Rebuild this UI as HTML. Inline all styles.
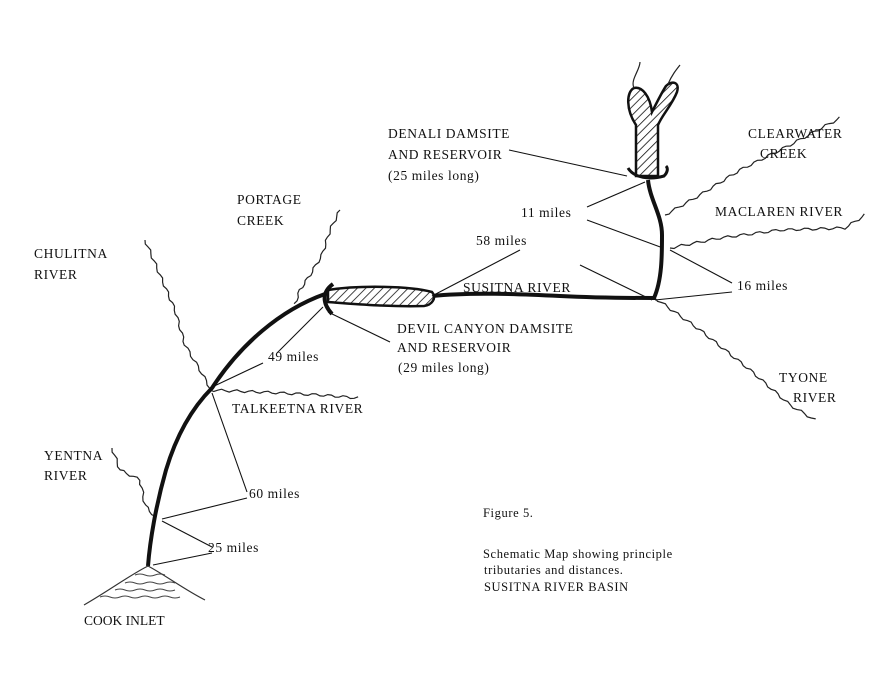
<!DOCTYPE html>
<html><head><meta charset="utf-8"><style>
html,body{margin:0;padding:0;background:#fff;}
svg{display:block}
text{font-family:"Liberation Serif",serif;font-size:13.5px;fill:#111;letter-spacing:0.6px}
</style></head><body>
<svg id="s" width="896" height="700" viewBox="0 0 896 700" xmlns="http://www.w3.org/2000/svg">
<defs>
<pattern id="h" width="6" height="6" patternUnits="userSpaceOnUse" patternTransform="rotate(45)">
<rect width="6" height="6" fill="#fff"/><line x1="0" y1="0" x2="0" y2="6" stroke="#111" stroke-width="1.6"/>
</pattern>
</defs>
<g id="w" fill="none" stroke="#222" stroke-width="1.2"></g>
<path d="M148 566 C150 540 156 505 166 470 C178 430 195 405 212 388 C240 345 280 310 325 294" fill="none" stroke="#111" stroke-width="4"/>
<path d="M432 296 C470 292 520 294 560 296 C600 298 630 298 654 298 C662 280 662 255 662 235 C662 215 650 200 648 180" fill="none" stroke="#111" stroke-width="4"/>
<path d="M328 290 C360 285 410 286 432 292 C437 298 432 305 424 306 C390 307 355 304 328 302 Z" fill="url(#h)" stroke="#111" stroke-width="2.5"/>
<path d="M333 284 C322 292 322 303 332 314" fill="none" stroke="#111" stroke-width="4"/>
<path d="M636 176 L636 125 C626 110 626 92 634 88 C642 86 650 96 652 112 C658 100 662 92 666 86 C672 80 680 82 677 92 C672 105 662 115 658 125 L658 176 Z" fill="url(#h)" stroke="#111" stroke-width="2.5"/>
<path d="M628 168 C634 178 650 180 664 176 C668 172 668 168 666 166" fill="none" stroke="#111" stroke-width="3"/>
<path d="M634 88 C630 80 640 70 640 62 M668 84 C672 75 676 70 680 65" fill="none" stroke="#222" stroke-width="1.2"/>
<path d="M84 605 C110 590 130 575 148 566 C165 575 185 590 205 600" fill="none" stroke="#333" stroke-width="1.2"/>
<g stroke="#444" stroke-width="1" fill="none">
<path d="M135 575 q5 -2 10 0 t10 0 t10 0"/><path d="M125 583 q5 -2 10 0 t10 0 t10 0 t10 0 t10 0"/><path d="M115 590 q5 -2 10 0 t10 0 t10 0 t10 0 t10 0 t10 0"/><path d="M100 597 q5 -2 10 0 t10 0 t10 0 t10 0 t10 0 t10 0 t10 0 t10 0"/></g>
<g stroke="#111" stroke-width="1.1">
<line x1="509" y1="150" x2="627" y2="176"/>
<line x1="587" y1="207" x2="645" y2="182"/>
<line x1="587" y1="220" x2="663" y2="248"/>
<line x1="580" y1="265" x2="652" y2="300"/>
<line x1="520" y1="250" x2="432" y2="296"/>
<line x1="670" y1="250" x2="732" y2="283"/>
<line x1="655" y1="300" x2="732" y2="292"/>
<line x1="277" y1="353" x2="323" y2="307"/>
<line x1="263" y1="363" x2="210" y2="388"/>
<line x1="390" y1="342" x2="328" y2="312"/>
<line x1="247" y1="492" x2="212" y2="393"/>
<line x1="247" y1="498" x2="162" y2="519"/>
<line x1="212" y1="547" x2="162" y2="521"/>
<line x1="212" y1="553" x2="153" y2="565"/>
</g>
<text x="388" y="138">DENALI DAMSITE</text>
<text x="388" y="159">AND RESERVOIR</text>
<text x="388" y="180">(25 miles long)</text>
<text x="748" y="138">CLEARWATER</text>
<text x="760" y="158">CREEK</text>
<text x="715" y="216">MACLAREN RIVER</text>
<text x="521" y="217">11 miles</text>
<text x="476" y="245">58 miles</text>
<text x="463" y="292">SUSITNA RIVER</text>
<text x="737" y="290">16 miles</text>
<text x="397" y="333">DEVIL CANYON DAMSITE</text>
<text x="397" y="352">AND RESERVOIR</text>
<text x="398" y="372">(29 miles long)</text>
<text x="237" y="204">PORTAGE</text>
<text x="237" y="225">CREEK</text>
<text x="34" y="258">CHULITNA</text>
<text x="34" y="279">RIVER</text>
<text x="268" y="361">49 miles</text>
<text x="232" y="413">TALKEETNA RIVER</text>
<text x="779" y="382">TYONE</text>
<text x="793" y="402">RIVER</text>
<text x="44" y="460">YENTNA</text>
<text x="44" y="480">RIVER</text>
<text x="249" y="498">60 miles</text>
<text x="208" y="552">25 miles</text>
<text x="84" y="625" style="letter-spacing:0">COOK INLET</text>
<text x="483" y="517" style="font-size:12.5px">Figure 5.</text>
<text x="483" y="558" style="font-size:12.5px">Schematic Map showing principle</text>
<text x="484" y="574" style="font-size:12.5px">tributaries and distances.</text>
<text x="484" y="591" style="font-size:12.5px">SUSITNA RIVER BASIN</text>
</svg>
<script>
var g=document.getElementById('w');
function wavy(pts){var d='';var k=0;for(var i=0;i<pts.length-1;i++){var a=pts[i],b=pts[i+1];var dx=b[0]-a[0],dy=b[1]-a[1];var L=Math.hypot(dx,dy);var n=Math.max(1,Math.round(L/4));var nx=-dy/L,ny=dx/L;for(var j=0;j<=n;j++){if(i>0&&j==0)continue;var t=j/n;var o=Math.sin(k*1.6)*1.3;k++;var x=a[0]+dx*t+nx*o,y=a[1]+dy*t+ny*o;d+=(d?'L':'M')+x.toFixed(1)+' '+y.toFixed(1);}}
var p=document.createElementNS('http://www.w3.org/2000/svg','path');p.setAttribute('d',d);g.appendChild(p);}
wavy([[145,240],[160,275],[175,310],[185,345],[200,370],[210,388]]);
wavy([[340,210],[330,230],[322,255],[310,275],[300,290],[295,304]]);
wavy([[210,390],[260,392],[320,395],[358,398]]);
wavy([[112,448],[120,470],[140,480],[145,505],[155,517]]);
wavy([[665,215],[700,195],[740,170],[790,145],[840,118]]);
wavy([[670,248],[720,238],[780,230],[845,228],[865,215]]);
wavy([[655,298],[700,330],[750,370],[790,405],[815,420]]);
</script>
</body></html>
